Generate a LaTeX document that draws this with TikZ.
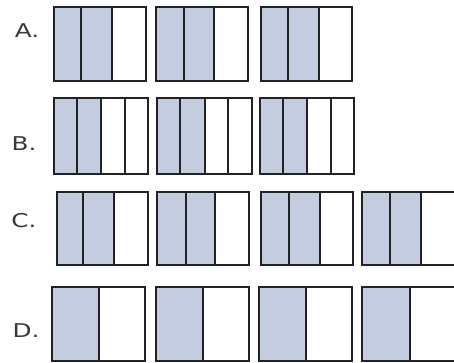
\documentclass[tikz,border=0pt]{standalone}
\usepackage{fontspec}
\setmainfont{DejaVu Sans}
\definecolor{shade}{RGB}{196,204,224}
\definecolor{ink}{RGB}{34,34,38}
\tikzset{
  cell/.style={fill=shade,draw=none},
  frame/.style={draw=ink,line width=2.2pt},
  lbl/.style={font=\fontsize{19}{19}\selectfont,text=ink!90,inner sep=0pt}
}
% \partbox : x1 x2 ybottom ytop {dividers} shaded-right-edge
\newcommand\partbox[6]{%
  \fill[cell] (#1,#3) rectangle (#6,#4);
  \foreach \d in {#5} { \draw[frame] (\d,#3) -- (\d,#4); }
  \draw[frame] (#1,#3) rectangle (#2,#4);
}
\begin{document}
\begin{tikzpicture}[x=1pt,y=1pt]
\useasboundingbox (0,0) rectangle (454,362);
\clip (0,0) rectangle (454,362);
\fill[white] (0,0) rectangle (454,362);
% labels
\node[lbl] (la) at (27,331) {\scalebox{1.3}[1]{A.}};
\node[lbl] (lb) at (24,218) {\scalebox{1.3}[1]{B.}};
\node[lbl] (lc) at (24,141) {\scalebox{1.3}[1]{C.}};
\node[lbl] (ld) at (26,31) {\scalebox{1.3}[1]{D.}};
% row A
\partbox{54}{146}{281}{355}{81,112}{112}
\partbox{156}{248}{281}{355}{184,214}{214}
\partbox{261}{352}{281}{355}{288,319}{319}
% row B
\partbox{54}{148}{188}{264}{77,101,125}{101}
\partbox{157}{252}{188}{264}{180,205,228}{205}
\partbox{260}{354}{188}{264}{283,307,331}{307}
% row C
\partbox{57}{148}{97}{170}{83,114}{114}
\partbox{157}{249}{97}{170}{186,215}{215}
\partbox{261}{353}{97}{170}{289,320}{320}
\partbox{362}{456}{97}{170}{390,421}{421}
% row D
\partbox{52}{145}{1}{75}{99}{99}
\partbox{156}{249}{1}{75}{203}{203}
\partbox{259}{352}{1}{75}{306}{306}
\partbox{362}{456}{1}{75}{410}{410}
\end{tikzpicture}
\end{document}
